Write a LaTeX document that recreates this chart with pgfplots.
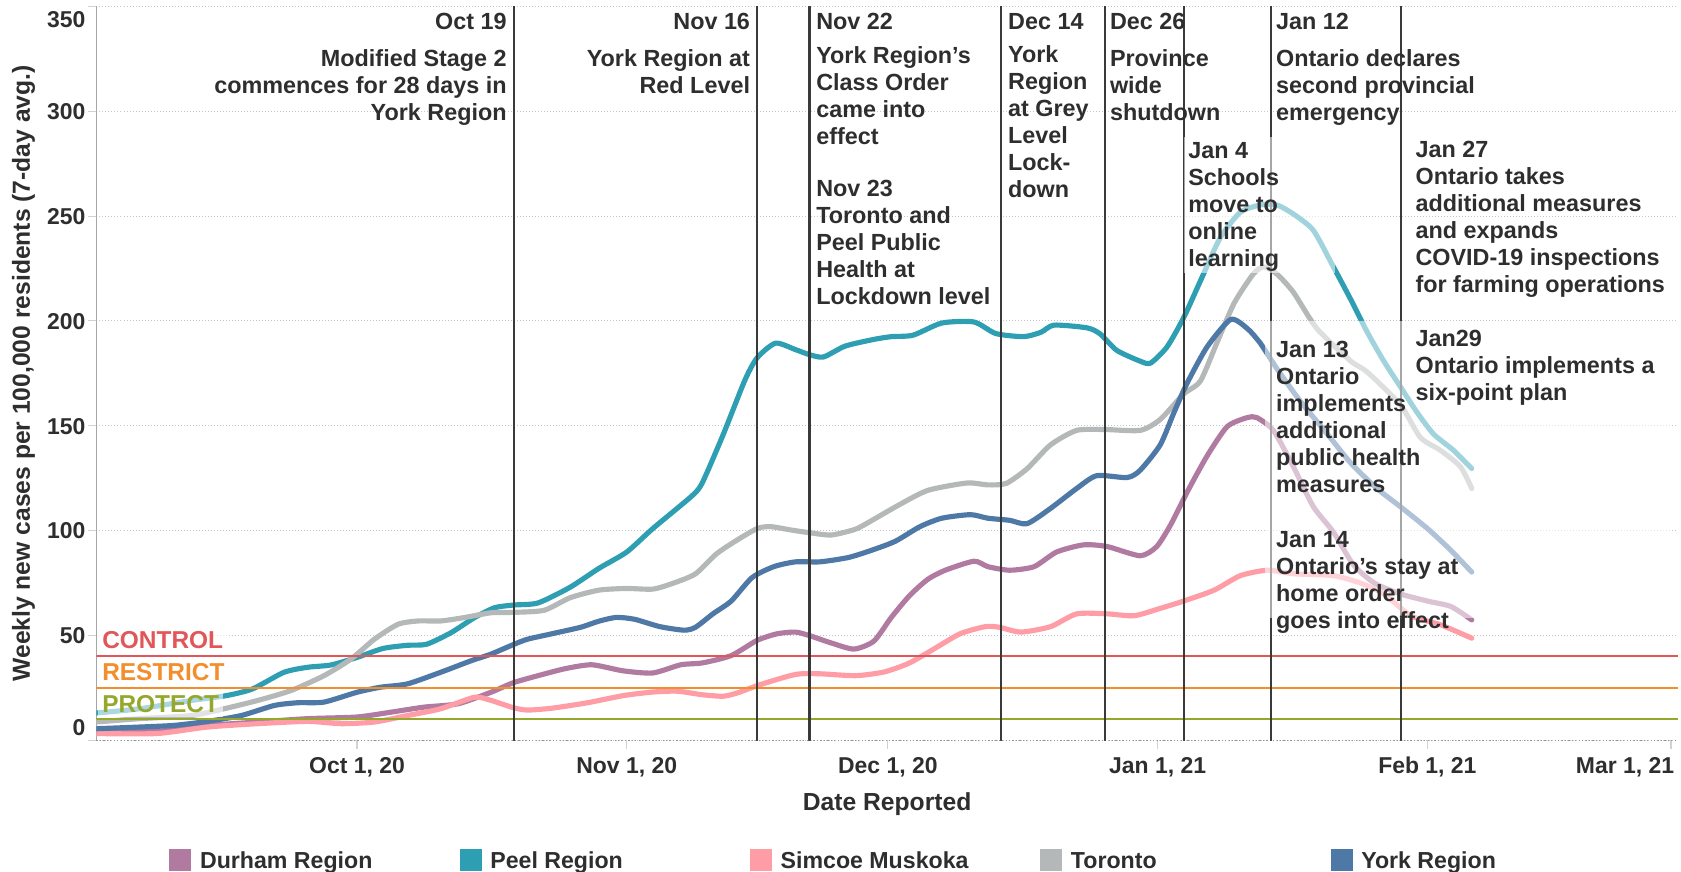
\documentclass[border=0pt]{standalone}
\usepackage{fontspec}
\setmainfont{Liberation Sans}
\usepackage{pgfplots}
\pgfplotsset{compat=1.18}
\definecolor{durham}{HTML}{B07AA1}
\definecolor{peel}{HTML}{2E9FB2}
\definecolor{simcoe}{HTML}{FF9DA7}
\definecolor{toronto}{HTML}{B5B8B8}
\definecolor{york}{HTML}{4E79A7}
\definecolor{ctrl}{HTML}{E15759}
\definecolor{restr}{HTML}{F28E2B}
\definecolor{prot}{HTML}{95A82C}
\definecolor{txt}{HTML}{2E2E2E}
\definecolor{evl}{HTML}{3A3A3A}
\newcommand{\lgd}[2]{\makebox[135.4pt][l]{\textcolor{#1}{\rule[-1.35pt]{10.3pt}{10.3pt}}\hspace{4pt}#2}}
\begin{document}
\begin{tikzpicture}
\begin{axis}[
  width=737.5pt, height=342.25pt, scale only axis,
  xmin=-29.94, xmax=151.78, ymin=0, ymax=350,
  axis x line*=bottom, axis y line*=left,
  x axis line style={-, densely dotted, draw=gray!85, line width=0.6pt},
  y axis line style={-, draw=gray!70, line width=0.6pt},
  xtick={0,31,61,92,123,151},
  xticklabels={{Oct 1, 20},{Nov 1, 20},{Dec 1, 20},{Jan 1, 21},{Feb 1, 21},{}},
  ytick={0,50,100,150,200,250,300,350},
  yticklabels={\raisebox{6.25pt}{0},50,100,150,200,250,300,\raisebox{-6pt}{350}},
  ymajorgrids, major grid style={densely dotted, draw=gray!45, line width=0.5pt},
  tick style={draw=gray!35, line width=0.5pt}, major tick length=4pt, tick align=outside,
  ticklabel style={font=\fontsize{10.7}{12}\selectfont\bfseries, text=txt},
  xticklabel style={anchor=base, inner sep=0pt, yshift=-11.6pt},
  yticklabel style={anchor=base east, inner sep=0pt, yshift=-3.85pt, xshift=-1pt},
  every axis y label/.style={at={(axis description cs:-0.0461,0.5)}, rotate=90, anchor=center, font=\fontsize{11.5}{13}\selectfont\bfseries, text=txt},
  every axis x label/.style={at={(axis description cs:0.5,-0.0961)}, anchor=base, font=\fontsize{11.5}{13}\selectfont\bfseries, text=txt},
  ylabel={Weekly new cases per 100,000 residents (7-day avg.)},
  xlabel={Date Reported},
  legend columns=5,
  legend cell align=left,
  legend style={at={(axis description cs:0.0461,-0.1632)}, anchor=west, draw=none, fill=none, inner sep=0pt, outer sep=0pt, font=\fontsize{10.8}{12}\selectfont\bfseries, text=txt, nodes={inner sep=0pt}, /tikz/every odd column/.append style={column sep=0pt}, /tikz/every even column/.append style={column sep=0pt}},
  legend image code/.code={},
  every axis plot/.append style={line join=round, line cap=round},
]
\addplot[durham, line width=2.4pt, smooth, tension=0.4] coordinates {
(-30,4.7) (-23,4.3) (-17,7.1) (-11.4,8.7) (-5.7,10.3) (0,11.1) (3.9,13.4) (7.7,15.8) (11.6,17.4) (15.4,22.9) (18,27.5) (21.6,31.7) (24.1,34.3) (27,36) (30.6,33.1) (34,32.1) (37.2,36) (39.7,36.9) (43,40.4) (46,47.7) (48.3,50.8) (50.4,51.6) (52,49.9) (54.5,46.4) (57.1,43.5) (59.4,47.3) (61.4,58.6) (63.5,69) (65.6,76.8) (67.6,81.1) (70.9,85.4) (72.5,82.8) (75,81.1) (77.8,82.8) (80.4,89.8) (83.5,93.2) (86.2,92.4) (90,88) (91.9,92.4) (93.5,102.8) (95.4,118.4) (97.7,135.7) (100,149.6) (102.3,153.9) (103.4,153.9) (105.3,147.8) (107.6,130.5) (109.9,111.4) (112.2,99.3) (114.5,83.7) (116.9,75) (119.9,69.8) (123,66.4) (125.7,63.8) (128.1,57.4)};
\addlegendentry{\lgd{durham}{Durham Region}}
\addplot[peel, line width=2.4pt, smooth, tension=0.4] coordinates {
(-30,13) (-25,15) (-19,19) (-15,21.3) (-12,24.5) (-8.4,32.4) (-5.7,34.8) (-3,35.9) (0,39.5) (3,43.8) (5.8,45.3) (8,45.8) (10.8,51.3) (13.5,58.5) (15.8,63.2) (18,64.5) (20.8,65.5) (24.5,73) (27.8,82) (31,89.8) (34,101) (38.5,116.6) (39.7,123) (42.1,146) (44.6,172) (46,182.5) (48.1,189.4) (50.4,186.3) (52,183.9) (53.6,182.8) (56.1,188) (59.4,191.2) (61.4,192.5) (63.9,193.2) (67.2,199) (70.9,199.5) (73.4,194) (76.6,192.5) (78.6,194.6) (80.1,198) (83.9,196.7) (85.4,193.8) (87.3,186) (90,180.8) (91.2,179.9) (93.1,187.7) (95,201.6) (96.9,218.9) (99.2,239.7) (101.5,251.8) (103.8,255.3) (105.7,255.3) (107.6,251) (109.9,243.2) (112.2,225.8) (114.2,210.2) (116.1,194.6) (118,180.8) (119.9,168.6) (121.8,156.5) (123.7,146.1) (126,138.3) (128.1,129.6)};
\addlegendentry{\lgd{peel}{Peel Region}}
\addplot[simcoe, line width=2.4pt, smooth, tension=0.4] coordinates {
(-30,3.2) (-23,3.2) (-17.2,6.3) (-11.4,7.9) (-5.7,9) (-1.8,7.9) (2,8.7) (5.8,11.8) (9.6,15) (13.5,20.5) (15.4,19) (18,15.5) (19.6,14.4) (22.4,15.3) (26.5,17.9) (30.6,21.3) (34,23) (36.8,23.4) (39.7,21.7) (42.1,21) (43.8,22.7) (46.3,26.5) (50.4,31.4) (53.2,31.7) (57.3,30.8) (60.6,32.6) (63.5,36.9) (66.4,43.8) (69.3,50.8) (72.2,54.2) (73.8,53.9) (76.3,51.6) (79.7,54.2) (82.7,60.3) (86.2,60.3) (89.3,59.4) (92.3,62.9) (95,66.4) (98.5,71.6) (101.5,78.5) (104.6,81.1) (107.6,79.4) (112.2,78.5) (115.3,75) (118,69.8) (121.1,59.4) (124.5,55.1) (128.1,48.7)};
\addlegendentry{\lgd{simcoe}{Simcoe Muskoka}}
\addplot[toronto, line width=2.4pt, smooth, tension=0.4] coordinates {
(-30,8.7) (-25,10.3) (-19,11.8) (-15,15.3) (-11.4,19) (-7.6,23.7) (-3.8,30.8) (-0.7,38.7) (2,48.2) (4.7,55.3) (7,56.9) (9.6,56.9) (12.3,58.5) (15.4,60.8) (18,61) (21.5,62) (24.5,68) (27.8,71.6) (31,72.4) (34,72.1) (36.4,75) (38.9,79.4) (41.3,88.9) (43.8,95.8) (46,101) (47.5,101.9) (50,100.2) (52,99) (54.5,97.9) (57.3,100.7) (59.4,105.4) (62.3,112.3) (65.6,119.2) (70.1,122.7) (72.5,121.8) (74.6,122.5) (77,129.5) (79.7,140.9) (82.7,147.8) (86,148.2) (90,147.8) (92.3,153) (95,165.2) (96.9,171.2) (98.8,189.4) (100.8,208.5) (103,222.4) (104.2,225.8) (105.7,222.4) (107.6,213.7) (110.3,196.4) (114.2,180.8) (116.1,175.6) (119.9,160) (122.2,144.4) (124.5,138.3) (126.8,130.5) (128.1,120.1)};
\addlegendentry{\lgd{toronto}{Toronto}}
\addplot[york, line width=2.4pt, smooth, tension=0.4] coordinates {
(-30,5.5) (-25,6.3) (-21,7.1) (-17.2,9) (-13.3,11.8) (-9.5,16.6) (-6.8,17.9) (-3.8,18.2) (0,22.9) (2.7,25.3) (5.8,26.9) (9.6,32.4) (13.1,37.9) (15.4,41.1) (18,45.7) (19.6,48.2) (22.4,50.8) (25.7,53.9) (27.8,56.8) (29.8,58.6) (31.9,57.7) (34.8,54.2) (37.6,52.5) (38.9,53.9) (40.9,60.3) (43,66.4) (45.4,77.6) (47.9,82.8) (50.4,85.1) (53.2,85.1) (56.5,87.2) (59.4,91) (61.9,95) (64.7,101.9) (67.2,105.9) (70.5,107.6) (72.5,105.9) (75,104.9) (77,103.3) (79.7,110.6) (82.7,120.1) (85,126.2) (88.5,125.3) (90,128.8) (92.3,140.9) (93.9,156.5) (95.4,170.4) (97.7,187.7) (100.4,200.7) (102.3,196.4) (103.8,189.4) (105.7,177.3) (108.4,161.7) (111.5,146.1) (114.2,132.2) (117.2,120.1) (119.9,111.4) (123,101) (125.7,90.6) (128.1,80.2)};
\addlegendentry{\lgd{york}{York Region}}
% reference levels
\addplot[ctrl, line width=1pt, forget plot] coordinates {(-29.94,40) (151.78,40)};
\addplot[restr, line width=1pt, forget plot] coordinates {(-29.94,25) (151.78,25)};
\addplot[prot, line width=1pt, forget plot] coordinates {(-29.94,10) (151.78,10)};
% event lines
\addplot[evl, line width=1pt, forget plot] coordinates {(18,0) (18,350)};
\addplot[evl, line width=1pt, forget plot] coordinates {(46,0) (46,350)};
\addplot[evl, line width=1pt, forget plot] coordinates {(52,0) (52,350)};
\addplot[evl, line width=1pt, forget plot] coordinates {(74,0) (74,350)};
\addplot[evl, line width=1pt, forget plot] coordinates {(86,0) (86,350)};
\addplot[evl, line width=1pt, forget plot] coordinates {(95,0) (95,350)};
\addplot[evl, line width=1pt, forget plot] coordinates {(105,0) (105,350)};
\addplot[evl, line width=1pt, forget plot] coordinates {(120,0) (120,350)};
\end{axis}
\begin{scope}[x=0.5pt, y=-0.5pt, shift={(-45pt,345.25pt)}]
  % translucent annotation boxes
  \fill[white, opacity=0.55] (1104,128) rectangle (1245,255);
  \fill[white, opacity=0.55] (1180,299) rectangle (1560,576);
  \tikzset{ann/.style={inner sep=0pt, text=txt, font=\fontsize{10.9}{12.6}\selectfont\bfseries}}
  \node[ann, anchor=north east, align=right] at (473,12.2) {Oct 19\\[4.4pt]Modified Stage 2\\commences for 28 days in\\York Region};
  \node[ann, anchor=north east, align=right] at (700,12.2) {Nov 16\\[4.4pt]York Region at\\Red Level};
  \node[ann, anchor=north west, align=left] at (761,12.2) {Nov 22\\[2.9pt]York Region's\\Class Order\\came into\\effect\\[12pt]Nov 23\\Toronto and\\Peel Public\\Health at\\Lockdown level};
  \node[ann, anchor=north west, align=left] at (940,12.2) {Dec 14\\[2.9pt]York\\Region\\at Grey\\Level\\Lock-\\down};
  \node[ann, anchor=north west, align=left] at (1035,12.2) {Dec 26\\[4.4pt]Province\\wide\\shutdown};
  \node[ann, anchor=north west, align=left] at (1108,132) {Jan 4\\Schools\\move to\\online\\learning};
  \node[ann, anchor=north west, align=left] at (1190,12.2) {Jan 12\\[4.4pt]Ontario declares\\second provincial\\emergency};
  \node[ann, anchor=north west, align=left] at (1190,318) {Jan 13\\Ontario\\implements\\additional\\public health\\measures};
  \node[ann, anchor=north west, align=left] at (1190,495) {Jan 14\\Ontario’s stay at\\home order\\goes into effect};
  \node[ann, anchor=north west, align=left] at (1320,131) {Jan 27\\Ontario takes\\additional measures\\and expands\\COVID-19 inspections\\for farming operations};
  \node[ann, anchor=north west, align=left] at (1320,308) {Jan29\\Ontario implements a\\six-point plan};
  % level labels
  \tikzset{lvl/.style={anchor=west, inner xsep=2pt, inner ysep=2pt, fill=white, fill opacity=0.6, text opacity=1, font=\fontsize{11.4}{13}\selectfont\bfseries}}
  \node[lvl, text=ctrl] at (91,597) {CONTROL};
  \node[lvl, text=restr] at (91,627) {RESTRICT};
  \node[lvl, text=prot] at (91,657) {PROTECT};
  % last tick label (right-aligned)
  \node[anchor=base east, inner sep=0pt, text=txt, font=\fontsize{10.7}{12}\selectfont\bfseries] at (1562,721.7) {Mar 1, 21};
\end{scope}
\pgfresetboundingbox
\path[use as bounding box] (-45pt,-61.25pt) rectangle (739pt,345.25pt);
\end{tikzpicture}
\end{document}
